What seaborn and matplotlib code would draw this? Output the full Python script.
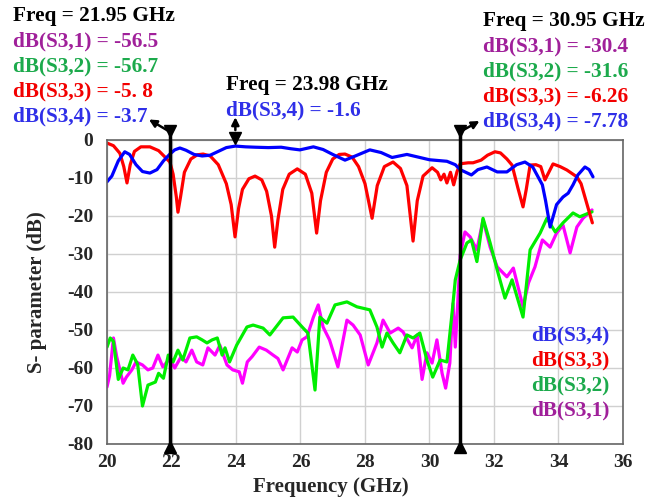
import matplotlib
matplotlib.use("Agg")
import matplotlib.pyplot as plt
import pandas as pd
import seaborn as sns

# S-parameter readings (GHz, dB)
f_s34 = [20.0, 20.15, 20.35, 20.55, 20.7, 20.9, 21.1, 21.33, 21.55, 21.75, 21.95, 22.1, 22.26, 22.45,
         22.7, 22.95, 23.2, 23.45, 23.7, 23.98, 24.3, 24.6, 25.0, 25.4, 25.7, 25.98, 26.4, 26.7, 27.0,
         27.38, 27.7, 28.15, 28.5, 28.84, 29.3, 29.7, 30.0, 30.54, 30.8, 30.95, 31.1, 31.3, 31.5, 31.78,
         32.1, 32.4, 32.7, 32.96, 33.2, 33.5, 33.6, 33.74, 33.94, 34.14, 34.3, 34.45, 34.6, 34.82, 34.95, 35.07]
s34 = [-11, -9.5, -5.5, -3.1, -3.8, -6.5, -8.3, -8.7, -7.8, -5.5, -3.7, -2.6, -2.1, -2.7,
       -3.8, -4.2, -4.0, -3.0, -2.0, -1.6, -1.8, -1.9, -2.0, -1.9, -2.3, -2.6, -1.8, -2.5, -3.8,
       -5.3, -4.2, -2.6, -3.3, -4.6, -3.8, -4.6, -5.2, -5.6, -6.5, -7.8, -8.4, -9.2, -7.8, -7.1,
       -8.4, -8.4, -6.5, -5.8, -7.1, -11.8, -16, -22.9, -17, -15, -14, -11.8, -9.2, -7.1, -7.8, -9.7]

f_s33 = [20.0, 20.2, 20.4, 20.52, 20.62, 20.72, 20.85, 21.05, 21.33, 21.6, 21.8, 21.95, 22.05, 22.15,
         22.2, 22.28, 22.4, 22.6, 22.8, 22.98, 23.2, 23.45, 23.7, 23.85, 23.97, 24.08, 24.2, 24.4, 24.59,
         24.8, 24.95, 25.1, 25.2, 25.3, 25.45, 25.65, 25.9, 26.15, 26.35, 26.5, 26.62, 26.8, 27.0, 27.2,
         27.38, 27.6, 27.8, 28.0, 28.22, 28.38, 28.6, 28.87, 29.1, 29.3, 29.49, 29.62, 29.8, 30.08, 30.25,
         30.35, 30.45, 30.54, 30.65, 30.75, 30.85, 30.95, 31.2, 31.35, 31.6, 31.8, 32.03, 32.2, 32.4,
         32.56, 32.74, 32.9, 33.0, 33.12, 33.3, 33.45, 33.58, 33.83, 34.05, 34.26, 34.57, 34.7, 35.05]
s33 = [-0.8, -1.5, -3.5, -7, -11.3, -6.5, -3, -1.8, -1.8, -2.8, -4.5, -5.8, -9, -15,
       -19, -15, -8.5, -5, -3.9, -3.7, -4.2, -6.5, -11.5, -17, -25.5, -18, -13, -10.2, -9.5,
       -10.5, -13.5, -20, -28.2, -21, -13, -9, -7.6, -9, -14, -24.5, -16, -8.5, -5, -3.8,
       -3.7, -4.5, -7, -11.5, -20.6, -12, -7, -5.8, -7.5, -12, -26.6, -16, -9.5, -7.3, -8.5,
       -10.5, -9, -11.3, -8.5, -11.8, -8.4, -6.26, -6, -6, -5.3, -4, -3.1, -3.4, -5,
       -6.6, -12.6, -17.6, -13, -6.6, -6.5, -7, -10.5, -6.3, -7, -7.9, -9.7, -11.5, -21.8]

f_s32 = [20.0, 20.1, 20.2, 20.35, 20.5, 20.65, 20.8, 20.95, 21.1, 21.27, 21.5, 21.6, 21.75, 21.9,
         22.05, 22.2, 22.35, 22.57, 22.78, 22.95, 23.1, 23.26, 23.42, 23.57, 23.66, 23.8, 24.02, 24.34,
         24.53, 24.84, 25.05, 25.36, 25.46, 25.77, 26.05, 26.23, 26.45, 26.6, 26.82, 27.07, 27.44, 27.75,
         28.15, 28.37, 28.53, 28.68, 28.87, 29.08, 29.3, 29.49, 29.7, 29.92, 30.1, 30.33, 30.54, 30.7,
         30.8, 30.95, 31.16, 31.3, 31.47, 31.66, 31.88, 32.1, 32.34, 32.56, 32.9, 33.12, 33.43, 33.64,
         33.9, 34.14, 34.45, 34.66, 35.04]
s32 = [-54.5, -52.1, -53, -63, -60, -60.5, -56.6, -59, -70, -64.5, -63.7, -61.4, -62.7, -56.6,
       -58.4, -55.3, -57.9, -52.1, -51.8, -52.6, -53.4, -52.6, -52.1, -56.6, -54.7, -58.4, -54, -49.2,
       -48.7, -49.5, -51.3, -47.9, -46.8, -46.6, -49.2, -50.8, -65.8, -46.6, -48.2, -43.4, -42.6, -43.9,
       -44.7, -49.2, -54.5, -50.8, -53.4, -56, -51.3, -52.1, -50.8, -57.9, -62.4, -57.9, -58.4, -45.5,
       -36.8, -31.6, -27.1, -26.3, -32, -20.6, -27.1, -34.2, -41.6, -36.8, -46.6, -28.9, -24.5, -20.6,
       -24.2, -21.8, -19.2, -20.2, -18.9]

f_s31 = [20.0, 20.08, 20.2, 20.3, 20.4, 20.5, 20.6, 20.77, 20.9, 21.1, 21.27, 21.42, 21.58, 21.73,
         21.95, 22.1, 22.3, 22.45, 22.63, 22.78, 22.97, 23.13, 23.35, 23.5, 23.72, 23.9, 24.1, 24.2,
         24.35, 24.5, 24.72, 24.94, 25.15, 25.3, 25.46, 25.74, 25.9, 26.05, 26.2, 26.4, 26.55, 26.7,
         26.9, 27.16, 27.44, 27.63, 27.85, 28.1, 28.37, 28.56, 28.78, 29.03, 29.18, 29.46, 29.62, 29.77,
         29.92, 30.08, 30.23, 30.39, 30.5, 30.63, 30.73, 30.8, 30.88, 30.95, 31.1, 31.26, 31.47, 31.66,
         31.88, 32.1, 32.4, 32.6, 32.9, 33.07, 33.27, 33.5, 33.74, 33.94, 34.14, 34.36, 34.57, 34.76, 35.04]
s31 = [-65, -62, -52.1, -57, -60.5, -64, -62.4, -60.5, -58.4, -59.2, -60.5, -60, -56.6, -59.7,
       -57.5, -60, -57, -58.4, -55.3, -58.4, -59.2, -54.7, -56.6, -54, -59.2, -60.5, -61, -64,
       -58.4, -57, -54.5, -55.3, -56.6, -57.5, -60.5, -54.7, -55.8, -52.6, -51.8, -46.6, -43.4, -49.2,
       -52.6, -59.7, -47.4, -48.7, -51.3, -59.2, -53.4, -47.4, -50.8, -49.5, -50.5, -54.7, -51.3, -63,
       -56, -58.7, -52.6, -61.4, -65.3, -58.7, -43, -54.5, -42.1, -30.4, -24.2, -25.5, -28.9, -21,
       -28.2, -33.4, -36, -33.7, -43.9, -37.6, -33.4, -26.3, -28.2, -24.5, -22.4, -29.7, -22.9, -20.6, -18.4]

names = ["dB(S3,1)", "dB(S3,2)", "dB(S3,3)", "dB(S3,4)"]
line_colors = {"dB(S3,1)": "#ff00ff", "dB(S3,2)": "#00ee00", "dB(S3,3)": "#ff0000", "dB(S3,4)": "#0000ff"}
text_colors = {"dB(S3,1)": "#a0209a", "dB(S3,2)": "#1caa4c", "dB(S3,3)": "#f20000", "dB(S3,4)": "#2f2fe8"}

frames = []
for n, fx, vy in zip(names, [f_s31, f_s32, f_s33, f_s34], [s31, s32, s33, s34]):
    frames.append(pd.DataFrame({"freq": fx, "db": vy, "trace": n}))
df = pd.concat(frames, ignore_index=True)

sns.set_style("white")
plt.rcParams["font.family"] = ["Liberation Serif", "DejaVu Serif"]
plt.rcParams["font.weight"] = "bold"
plt.rcParams["axes.unicode_minus"] = False

fig = plt.figure(figsize=(6.57, 4.99), dpi=100)
ax = fig.add_axes([107 / 657, 1 - 444 / 499, 516 / 657, 304 / 499])

sns.lineplot(data=df, x="freq", y="db", hue="trace", palette=line_colors, hue_order=names,
             estimator=None, sort=False, lw=2.3, legend=False, ax=ax)

ax.set_xlim(20, 36)
ax.set_ylim(-80, 0)
ax.set_xticks(range(20, 37, 2))
ax.set_xticks(range(20, 37, 1), minor=True)
ax.set_yticks(range(-80, 1, 10))
ax.set_yticks(range(-80, 1, 5), minor=True)
ax.grid(True, which="major", color="#d0d0d0", lw=1)
ax.tick_params(which="both", direction="in", color="#555555", labelsize=14)
ax.tick_params(axis="x", pad=7)
ax.tick_params(axis="y", pad=10)
ax.tick_params(which="major", length=6)
ax.tick_params(which="minor", length=5)
for s in ax.spines.values():
    s.set_color("#666666")
    s.set_linewidth(1.2)
for lab in ax.get_xticklabels() + ax.get_yticklabels():
    lab.set_fontweight("bold")
ax.set_xlabel("Frequency (GHz)", fontsize=15, fontweight="bold")
ax.xaxis.set_label_coords(0.434, -0.108)
ax.set_ylabel("S- parameter (dB)", fontsize=15, fontweight="bold", labelpad=14)

# marker lines
for fm in [21.95, 30.95]:
    ax.plot([fm, fm], [2.5, -81], color="black", lw=2.5, clip_on=False, zorder=5)
    ax.plot(fm, 2.3, marker="v", color="black", ms=9, clip_on=False, zorder=6)
    ax.plot(fm, -80.8, marker="^", color="black", ms=9, clip_on=False, zorder=6)
ax.plot(23.98, 0.5, marker="v", color="black", ms=8, clip_on=False, zorder=6)

arrow = dict(arrowstyle="-|>", color="black", lw=1.8, mutation_scale=11, shrinkA=0, shrinkB=0)
ax.annotate("", xy=(21.3, 5.4), xytext=(21.9, 2.4), arrowprops=arrow, annotation_clip=False)
ax.annotate("", xy=(23.98, 6.0), xytext=(23.98, 2.6), arrowprops=arrow, annotation_clip=False)
ax.annotate("", xy=(31.55, 5.0), xytext=(31.0, 2.4), arrowprops=arrow, annotation_clip=False)

def put(x, y, s, c, ha="left"):
    fig.text(x / 657, 1 - y / 499, s, color=c, fontsize=15.3, fontweight="bold", ha=ha, va="center")

put(13, 16, "Freq = 21.95 GHz", "black")
put(13, 41, "dB(S3,1) = -56.5", text_colors["dB(S3,1)"])
put(13, 66, "dB(S3,2) = -56.7", text_colors["dB(S3,2)"])
put(13, 91, "dB(S3,3) = -5. 8", text_colors["dB(S3,3)"])
put(13, 116, "dB(S3,4) = -3.7", text_colors["dB(S3,4)"])

put(226, 85, "Freq = 23.98 GHz", "black")
put(226, 110, "dB(S3,4) = -1.6", text_colors["dB(S3,4)"])

put(483, 21, "Freq = 30.95 GHz", "black")
put(483, 46, "dB(S3,1) = -30.4", text_colors["dB(S3,1)"])
put(483, 71, "dB(S3,2) = -31.6", text_colors["dB(S3,2)"])
put(483, 96, "dB(S3,3) = -6.26", text_colors["dB(S3,3)"])
put(483, 121, "dB(S3,4) = -7.78", text_colors["dB(S3,4)"])

# legend-like labels
for i, n in enumerate(["dB(S3,4)", "dB(S3,3)", "dB(S3,2)", "dB(S3,1)"]):
    put(609, 335 + i * 25.3, n, text_colors[n], ha="right")

fig.savefig("out.png", dpi=100)
